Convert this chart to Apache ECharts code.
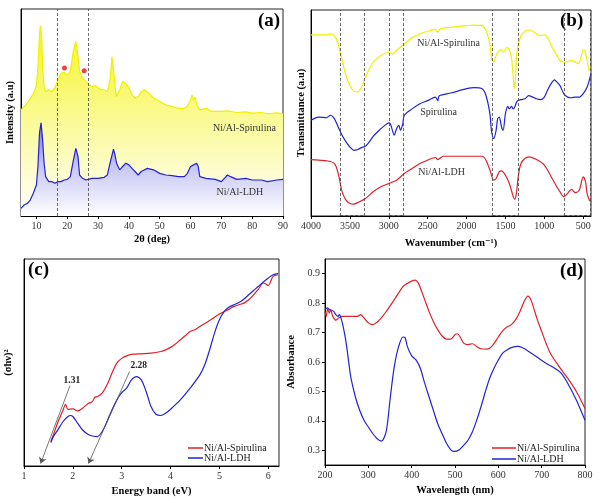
<!DOCTYPE html>
<html>
<head>
<meta charset="utf-8">
<script src="https://cdn.jsdelivr.net/npm/echarts@6/dist/echarts.min.js"></script>
<style>
html, body { margin: 0; padding: 0; background: #fff; }
#chart { width: 600px; height: 503px; }
</style>
</head>
<body>
<div id="chart"></div>
<script>
// (a) XRD, 2θ vs intensity (a.u.)
var xrdSpirulina = [[5,51.3],[7,54.5],[9,59],[10,63],[10.5,72],[11,88],[11.3,92],[11.7,87],[12,72],[12.5,62.5],[13,60],[14,61],[15,60],[16,62],[17,66],[18,69],[19,69.4],[20,68],[21,70],[22,80],[22.8,84.4],[23.5,77],[24,70],[25,66.6],[26,65],[27,63.4],[28,62.6],[29,63],[30,62],[31,61],[32,61],[33,60],[34,67],[34.5,77],[35,71],[35.5,62.6],[36,57.7],[37,61],[38,65],[39,64],[40,62],[41,58.5],[42,57],[43,57.7],[44,60],[45,61],[46,60],[47,58.5],[48,57],[50,55.3],[52,53.7],[54,52.9],[56,52],[58,52],[59,53],[60,56],[60.5,58.5],[61,56],[61.5,57.4],[62,53.7],[63,51.3],[65,52],[67,50.5],[70,50.5],[72,50.8],[75,50],[78,50.3],[80,49.7],[83,50],[85,49.4],[88,49.8],[90,49.4]];
var xrdLdh = [[5,3.7],[6,5.3],[7,6],[8,7.7],[9,11],[10,15],[10.5,24],[11,40],[11.5,45],[12,37],[12.5,25.5],[13,19],[14,16.6],[15,16.6],[16,15.8],[17,16.6],[18,16.6],[19,17.4],[20,17.7],[21,19],[22,27],[22.8,32.7],[23.5,28.7],[24,19.8],[25,18.2],[26,17.4],[28,18.2],[30,18.2],[32,18.7],[33,19.8],[34,26.3],[35,32.3],[35.5,29.5],[36,25.5],[37,22.3],[38,23.9],[39,25.5],[40,24.7],[41,23],[42,21.5],[43,19.8],[44,21.5],[46,23],[48,22.3],[50,20.6],[52,19.8],[54,19.5],[56,19],[58,19],[59,20.6],[60,23.9],[61,24.7],[62,25.5],[62.5,23.9],[63,19],[65,18.2],[68,17.7],[70,16.6],[71,18.2],[72,19.8],[73,19],[75,17.7],[78,18.2],[80,17.4],[83,17.4],[85,16.6],[88,17.4],[90,17.7]];
var xrdMarkers = [[19.1,71.5],[25.5,70.2]];
var xrdGuides = [16.7, 26.9];
var xrdTicks = [10,20,30,40,50,60,70,80,90];

// (b) FTIR, wavenumber vs transmittance (a.u.)
var ftirSpirulinaComp = [[4000,87.9],[3800,87.9],[3750,88.4],[3700,87.6],[3650,83.5],[3600,75.5],[3550,68.2],[3500,63.4],[3450,60.6],[3400,60.2],[3350,62.6],[3300,67.4],[3250,71.5],[3200,74.7],[3100,77.9],[3000,79.5],[2950,78.7],[2900,80.3],[2800,83.5],[2700,86.5],[2600,88.4],[2500,89.7],[2400,90.5],[2370,89.2],[2340,90.8],[2200,91.6],[2000,92.4],[1900,92.7],[1800,92.4],[1750,90],[1700,83.5],[1680,77],[1650,74.7],[1620,77.9],[1580,80.3],[1550,80.6],[1520,79.5],[1480,81.9],[1450,80.6],[1420,76.3],[1400,67.4],[1385,61.8],[1370,67.4],[1350,80.3],[1300,87.6],[1250,89.7],[1200,90.3],[1150,89.7],[1100,88.4],[1050,87.6],[1000,87.9],[950,86],[900,81.9],[850,78.7],[800,75.5],[750,74.7],[700,75],[650,75.5],[600,74.7],[560,73.9],[530,77],[500,80.6],[480,80.3],[450,75.5],[420,70.6],[400,72]];
var ftirSpirulina = [[4000,46.5],[3900,48],[3800,47.7],[3750,48.9],[3700,47.3],[3650,43.2],[3600,39.2],[3550,36],[3500,33.5],[3450,31.9],[3400,32.3],[3350,33.2],[3300,33.9],[3250,36],[3200,38.7],[3100,42.4],[3050,44],[3000,45.2],[2980,44.8],[2960,42.4],[2930,39.2],[2900,42.4],[2870,44],[2850,41.6],[2820,44.8],[2800,48.9],[2700,52],[2600,54.5],[2500,56],[2400,57.7],[2370,56],[2350,58.4],[2200,59.7],[2000,61.8],[1900,62.3],[1800,61.8],[1750,58.5],[1700,49.7],[1680,41.6],[1650,37.6],[1620,41.6],[1600,47.3],[1580,48],[1550,43.2],[1530,41.6],[1500,49.7],[1470,53.2],[1450,52],[1420,53.2],[1400,52],[1380,52.9],[1350,55.8],[1300,56.5],[1250,56.9],[1200,58.4],[1150,57.7],[1100,56.9],[1050,56.5],[1000,57.7],[950,61.8],[900,65],[870,66.1],[850,65.5],[800,63.4],[750,59.4],[700,57.7],[650,57.4],[600,57.7],[550,57.7],[500,59.4],[450,62.6],[400,69]];
var ftirLdh = [[4000,27.4],[3900,27.1],[3800,26.8],[3700,25.5],[3650,20.6],[3600,11.8],[3550,7.7],[3500,6.1],[3450,5.8],[3400,6.5],[3300,8.5],[3200,11.8],[3100,14.2],[3000,15.8],[2900,17.4],[2800,20.6],[2700,23],[2600,25.5],[2500,27.1],[2400,28.4],[2370,27.4],[2300,29],[2200,29],[2000,29],[1800,29],[1750,27.1],[1700,22.3],[1650,17.4],[1620,18.2],[1580,21.5],[1550,21.9],[1500,19.8],[1450,15.8],[1400,9.4],[1380,8.1],[1360,11],[1330,20.6],[1300,25.5],[1250,27.9],[1200,28.7],[1100,27.4],[1000,24.7],[900,18.2],[800,11.8],[750,9.4],[700,11],[650,12.9],[600,11.3],[550,12.6],[500,19],[470,16.6],[450,11],[420,7.7],[400,6.9]];
var ftirGuides = [3625, 3310, 2990, 2810, 1665, 1335, 745, 405];
var ftirTicks = [500,1000,1500,2000,2500,3000,3500,4000];

// (c) Tauc plot, energy (eV) vs (σhν)²
var taucSpirulina = [[1.55,11.8],[1.6,15],[1.7,21.5],[1.8,27.1],[1.85,29.8],[1.9,27.4],[2.0,27.6],[2.1,26.6],[2.2,27.9],[2.3,30],[2.4,31.1],[2.45,33.2],[2.5,33.5],[2.6,35.2],[2.7,39.2],[2.8,44.8],[2.9,49.7],[3.0,52],[3.1,53.2],[3.2,53.9],[3.4,54.2],[3.6,54.5],[3.8,55.3],[3.9,56.1],[4.0,57.3],[4.1,58.9],[4.2,61],[4.3,62.9],[4.4,65],[4.5,65.8],[4.6,67.4],[4.8,70.3],[5.0,73.4],[5.2,75.8],[5.3,77.1],[5.4,77.9],[5.5,78.7],[5.6,80.3],[5.7,82.7],[5.8,85.5],[5.9,88.4],[5.95,87.9],[6.0,87.1],[6.05,89.2],[6.1,91.6],[6.2,92.4]];
var taucLdh = [[1.55,11.3],[1.6,14.2],[1.7,17.7],[1.8,21.5],[1.9,23.9],[1.95,24.4],[2.0,23.9],[2.1,20.6],[2.2,17.4],[2.3,15.5],[2.4,14.5],[2.5,14.2],[2.6,16.6],[2.7,21.5],[2.8,27.1],[2.9,31.9],[3.0,35.5],[3.1,37.6],[3.2,41.6],[3.3,43.2],[3.4,41.6],[3.5,36],[3.6,28.7],[3.7,25],[3.8,24.4],[3.9,25.5],[4.0,27.4],[4.2,31.9],[4.4,37.6],[4.6,44],[4.7,48.9],[4.8,56.1],[4.9,64.2],[5.0,70.6],[5.1,74.7],[5.2,76.8],[5.3,77.9],[5.4,79],[5.5,80.6],[5.6,82.7],[5.7,84.8],[5.8,86.8],[5.9,88.9],[6.0,90.8],[6.1,92.4],[6.2,92.9]];
var bandGaps = ['1.31', '2.28'];
var taucTicks = [1,2,3,4,5,6];

// (d) UV-Vis, wavelength (nm) vs absorbance
var uvSpirulina = [[200,0.772],[203,0.755],[206,0.78],[210,0.767],[213,0.776],[218,0.755],[225,0.742],[232,0.75],[240,0.755],[260,0.755],[275,0.755],[282,0.761],[290,0.75],[300,0.733],[310,0.727],[320,0.735],[330,0.75],[340,0.769],[350,0.79],[360,0.812],[370,0.835],[380,0.856],[390,0.867],[400,0.875],[408,0.878],[415,0.869],[420,0.852],[430,0.812],[440,0.772],[450,0.738],[460,0.71],[470,0.689],[480,0.678],[490,0.678],[500,0.693],[505,0.696],[512,0.685],[520,0.664],[530,0.659],[540,0.662],[550,0.653],[560,0.645],[575,0.644],[585,0.653],[600,0.685],[610,0.706],[620,0.719],[630,0.727],[640,0.744],[650,0.772],[660,0.807],[668,0.824],[675,0.812],[690,0.744],[700,0.704],[710,0.664],[720,0.63],[740,0.585],[760,0.545],[780,0.5],[800,0.442]];
var uvLdh = [[200,0.778],[205,0.784],[210,0.778],[215,0.776],[220,0.772],[225,0.761],[230,0.755],[233,0.761],[238,0.744],[245,0.698],[250,0.653],[255,0.596],[260,0.545],[270,0.482],[280,0.436],[290,0.402],[300,0.379],[310,0.357],[320,0.34],[330,0.331],[340,0.357],[345,0.402],[350,0.471],[360,0.585],[370,0.653],[380,0.685],[385,0.682],[390,0.653],[400,0.621],[410,0.607],[420,0.579],[430,0.528],[440,0.482],[450,0.436],[460,0.391],[470,0.357],[480,0.325],[490,0.302],[497,0.296],[510,0.302],[520,0.317],[530,0.334],[540,0.362],[550,0.402],[560,0.448],[570,0.499],[580,0.545],[590,0.579],[600,0.607],[610,0.63],[620,0.641],[630,0.649],[645,0.653],[655,0.649],[670,0.636],[690,0.616],[710,0.596],[730,0.579],[745,0.562],[760,0.528],[780,0.471],[800,0.402]];
var uvTicks = [0.3,0.4,0.5,0.6,0.7,0.8,0.9];
var uvWaveTicks = [200,300,400,500,600,700,800];

var FONT = '"Liberation Serif", "DejaVu Serif", serif';
var YELLOW = '#f0f000', BLUE = '#2222d4', RED = '#e02028';

var chart = echarts.init(document.getElementById('chart'));

function xAxisFor(grid, min, max, ticks, name, gap, extra) {
    var ax = {
        type: 'value', gridIndex: grid, min: min, max: max,
        axisLine: { show: true, lineStyle: { color: '#000', width: 1 } },
        axisTick: { show: true, length: 3, customValues: ticks, lineStyle: { color: '#000' } },
        axisLabel: { customValues: ticks, fontFamily: FONT, fontSize: 10, color: '#333', margin: 5,
            formatter: function (v) { return String(v); } },
        splitLine: { show: false },
        name: name, nameLocation: 'middle', nameGap: gap,
        nameTextStyle: { fontFamily: FONT, fontSize: 10.5, fontWeight: 'bold', color: '#000' }
    };
    return Object.assign(ax, extra || {});
}

function yAxisFor(grid, min, max, name, gap, ticks) {
    return {
        type: 'value', gridIndex: grid, min: min, max: max,
        axisLine: { show: true, lineStyle: { color: '#000', width: 1 } },
        axisTick: ticks ? { show: true, length: 3, customValues: ticks, lineStyle: { color: '#000' } } : { show: false },
        axisLabel: ticks ? { customValues: ticks, fontFamily: FONT, fontSize: 10, color: '#333', margin: 5,
            formatter: function (v) { return v.toFixed(1); } } : { show: false },
        splitLine: { show: false },
        name: name, nameLocation: 'middle', nameGap: gap,
        nameTextStyle: { fontFamily: FONT, fontSize: 10.5, fontWeight: 'bold', color: '#000' }
    };
}

function textMark(name, coord) {
    return { name: name, coord: coord };
}

var markText = {
    symbol: 'circle', symbolSize: 0, silent: true,
    label: { show: true, position: 'inside', formatter: '{b}', fontFamily: FONT, fontSize: 10, color: '#333' }
};

function dashLines(values, extraPairs) {
    var data = values.map(function (v) { return { xAxis: v }; });
    return {
        silent: true, symbol: 'none', label: { show: false },
        lineStyle: { type: [3, 2], color: '#444', width: 0.8 },
        data: data.concat(extraPairs || [])
    };
}

function gradient(top, mid, bottom) {
    return new echarts.graphic.LinearGradient(0, 0, 0, 1, [
        { offset: 0, color: top }, { offset: 0.45, color: mid }, { offset: 1, color: bottom }
    ]);
}

function line(name, x, y, data, color, extra) {
    return Object.assign({
        name: name, type: 'line', xAxisIndex: x, yAxisIndex: y, data: data,
        showSymbol: false, symbol: 'none', color: color,
        lineStyle: { color: color, width: 1.2 }
    }, extra || {});
}

// horizontal dashed pairs at the bottom of (b)
var ftirPairs = [];
for (var i = 0; i < ftirGuides.length; i += 2) {
    ftirPairs.push([{ coord: [ftirGuides[i], 0.6] }, { coord: [ftirGuides[i + 1], 0.6] }]);
}

var option = {
    backgroundColor: '#fff',
    animation: false,
    textStyle: { fontFamily: FONT },
    grid: [
        { left: 21, top: 9, width: 262, height: 207, show: true, borderColor: '#222', borderWidth: 1, backgroundColor: 'transparent' },
        { left: 311, top: 10, width: 280, height: 206, show: true, borderColor: '#222', borderWidth: 1, backgroundColor: 'transparent' },
        { left: 24, top: 259, width: 255, height: 207, show: true, borderColor: '#222', borderWidth: 1, backgroundColor: 'transparent' },
        { left: 325, top: 259, width: 260, height: 206, show: true, borderColor: '#222', borderWidth: 1, backgroundColor: 'transparent' }
    ],
    xAxis: [
        xAxisFor(0, 5, 90, xrdTicks, '2θ (deg)', 18),
        xAxisFor(1, 400, 4000, ftirTicks, 'Wavenumber (cm⁻¹)', 22, { inverse: true }),
        xAxisFor(2, 1, 6.22, taucTicks, 'Energy band (eV)', 20),
        xAxisFor(3, 200, 800, uvWaveTicks, 'Wavelength (nm)', 20)
    ],
    yAxis: [
        yAxisFor(0, 0, 100, 'Intensity (a.u)', 5),
        yAxisFor(1, 0, 100, 'Transmittance (a.u)', 4),
        yAxisFor(2, 0, 100, '(σhν)²', 10),
        yAxisFor(3, 0.25, 0.95, 'Absorbance', 28, uvTicks)
    ],
    legend: [
        {
            data: ['c:Ni/Al-Spirulina', 'c:Ni/Al-LDH'], left: 183, top: 438, orient: 'vertical',
            icon: 'rect', itemWidth: 15, itemHeight: 1.5, itemGap: 0,
            formatter: function (n) { return n.slice(2); },
            textStyle: { fontFamily: FONT, fontSize: 10, color: '#222', lineHeight: 9, padding: [0, 0, 0, -4] }
        },
        {
            data: ['d:Ni/Al-Spirulina', 'd:Ni/Al-LDH'], left: 487, top: 438, orient: 'vertical',
            icon: 'rect', itemWidth: 24, itemHeight: 1.5, itemGap: 1,
            formatter: function (n) { return n.slice(2); },
            textStyle: { fontFamily: FONT, fontSize: 10, color: '#222', lineHeight: 9, padding: [0, 0, 0, -4] }
        }
    ],
    graphic: [
        { type: 'text', left: 258, top: 12, style: { text: '(a)', font: 'bold 19px "Liberation Serif"', fill: '#000' } },
        { type: 'text', left: 560, top: 12, style: { text: '(b)', font: 'bold 19px "Liberation Serif"', fill: '#000' } },
        { type: 'text', left: 28, top: 261, style: { text: '(c)', font: 'bold 19px "Liberation Serif"', fill: '#000' } },
        { type: 'text', left: 560, top: 262, style: { text: '(d)', font: 'bold 19px "Liberation Serif"', fill: '#000' } }
    ],
    series: [
        // (a)
        line('a:Ni/Al-Spirulina', 0, 0, xrdSpirulina, YELLOW, {
            z: 2,
            areaStyle: { color: gradient('#f4f420', '#fafa8c', '#ffffff'), opacity: 1 },
            markLine: dashLines(xrdGuides),
            markPoint: Object.assign({ data: [textMark('Ni/Al-Spirulina', [77.5, 42.5])] }, markText)
        }),
        line('a:Ni/Al-LDH', 0, 0, xrdLdh, BLUE, {
            z: 3,
            areaStyle: { color: gradient('#7a7ae6', '#c4c4f4', '#ffffff'), opacity: 1 },
            markPoint: Object.assign({ data: [textMark('Ni/Al-LDH', [76, 11.5])] }, markText)
        }),
        {
            name: 'a:markers', type: 'scatter', xAxisIndex: 0, yAxisIndex: 0, data: xrdMarkers,
            symbolSize: 5, itemStyle: { color: '#e8101a' }, z: 5
        },
        // (b)
        line('b:Ni/Al-Spirulina', 1, 1, ftirSpirulinaComp, YELLOW, {
            smooth: 0.3,
            markLine: dashLines(ftirGuides, ftirPairs),
            markPoint: Object.assign({ data: [textMark('Ni/Al-Spirulina', [2230, 84])] }, markText)
        }),
        line('b:Spirulina', 1, 1, ftirSpirulina, BLUE, {
            smooth: 0.3,
            markPoint: Object.assign({ data: [textMark('Spirulina', [2360, 50.5])] }, markText)
        }),
        line('b:Ni/Al-LDH', 1, 1, ftirLdh, RED, {
            smooth: 0.3,
            markPoint: Object.assign({ data: [textMark('Ni/Al-LDH', [2320, 21])] }, markText)
        }),
        // (c)
        line('c:Ni/Al-Spirulina', 2, 2, taucSpirulina, RED, {
            smooth: 0.3,
            markLine: {
                silent: true, symbol: ['none', 'arrow'], symbolSize: 6, label: { show: false },
                lineStyle: { type: 'solid', color: '#555', width: 0.8 },
                data: [
                    [{ coord: [1.94, 38.7] }, { coord: [1.34, 1.2] }],
                    [{ coord: [3.16, 45.6] }, { coord: [2.32, 1.2] }]
                ]
            },
            markPoint: {
                symbol: 'circle', symbolSize: 0, silent: true,
                label: { show: true, position: 'inside', formatter: '{b}', fontFamily: FONT, fontSize: 9.5, fontWeight: 'bold', color: '#222' },
                data: [textMark(bandGaps[0], [1.98, 41.5]), textMark(bandGaps[1], [3.35, 48.5])]
            }
        }),
        line('c:Ni/Al-LDH', 2, 2, taucLdh, BLUE, { smooth: 0.3 }),
        // (d)
        line('d:Ni/Al-Spirulina', 3, 3, uvSpirulina, RED, { smooth: 0.3 }),
        line('d:Ni/Al-LDH', 3, 3, uvLdh, BLUE, { smooth: 0.3 })
    ]
};

chart.setOption(option);
</script>
</body>
</html>
